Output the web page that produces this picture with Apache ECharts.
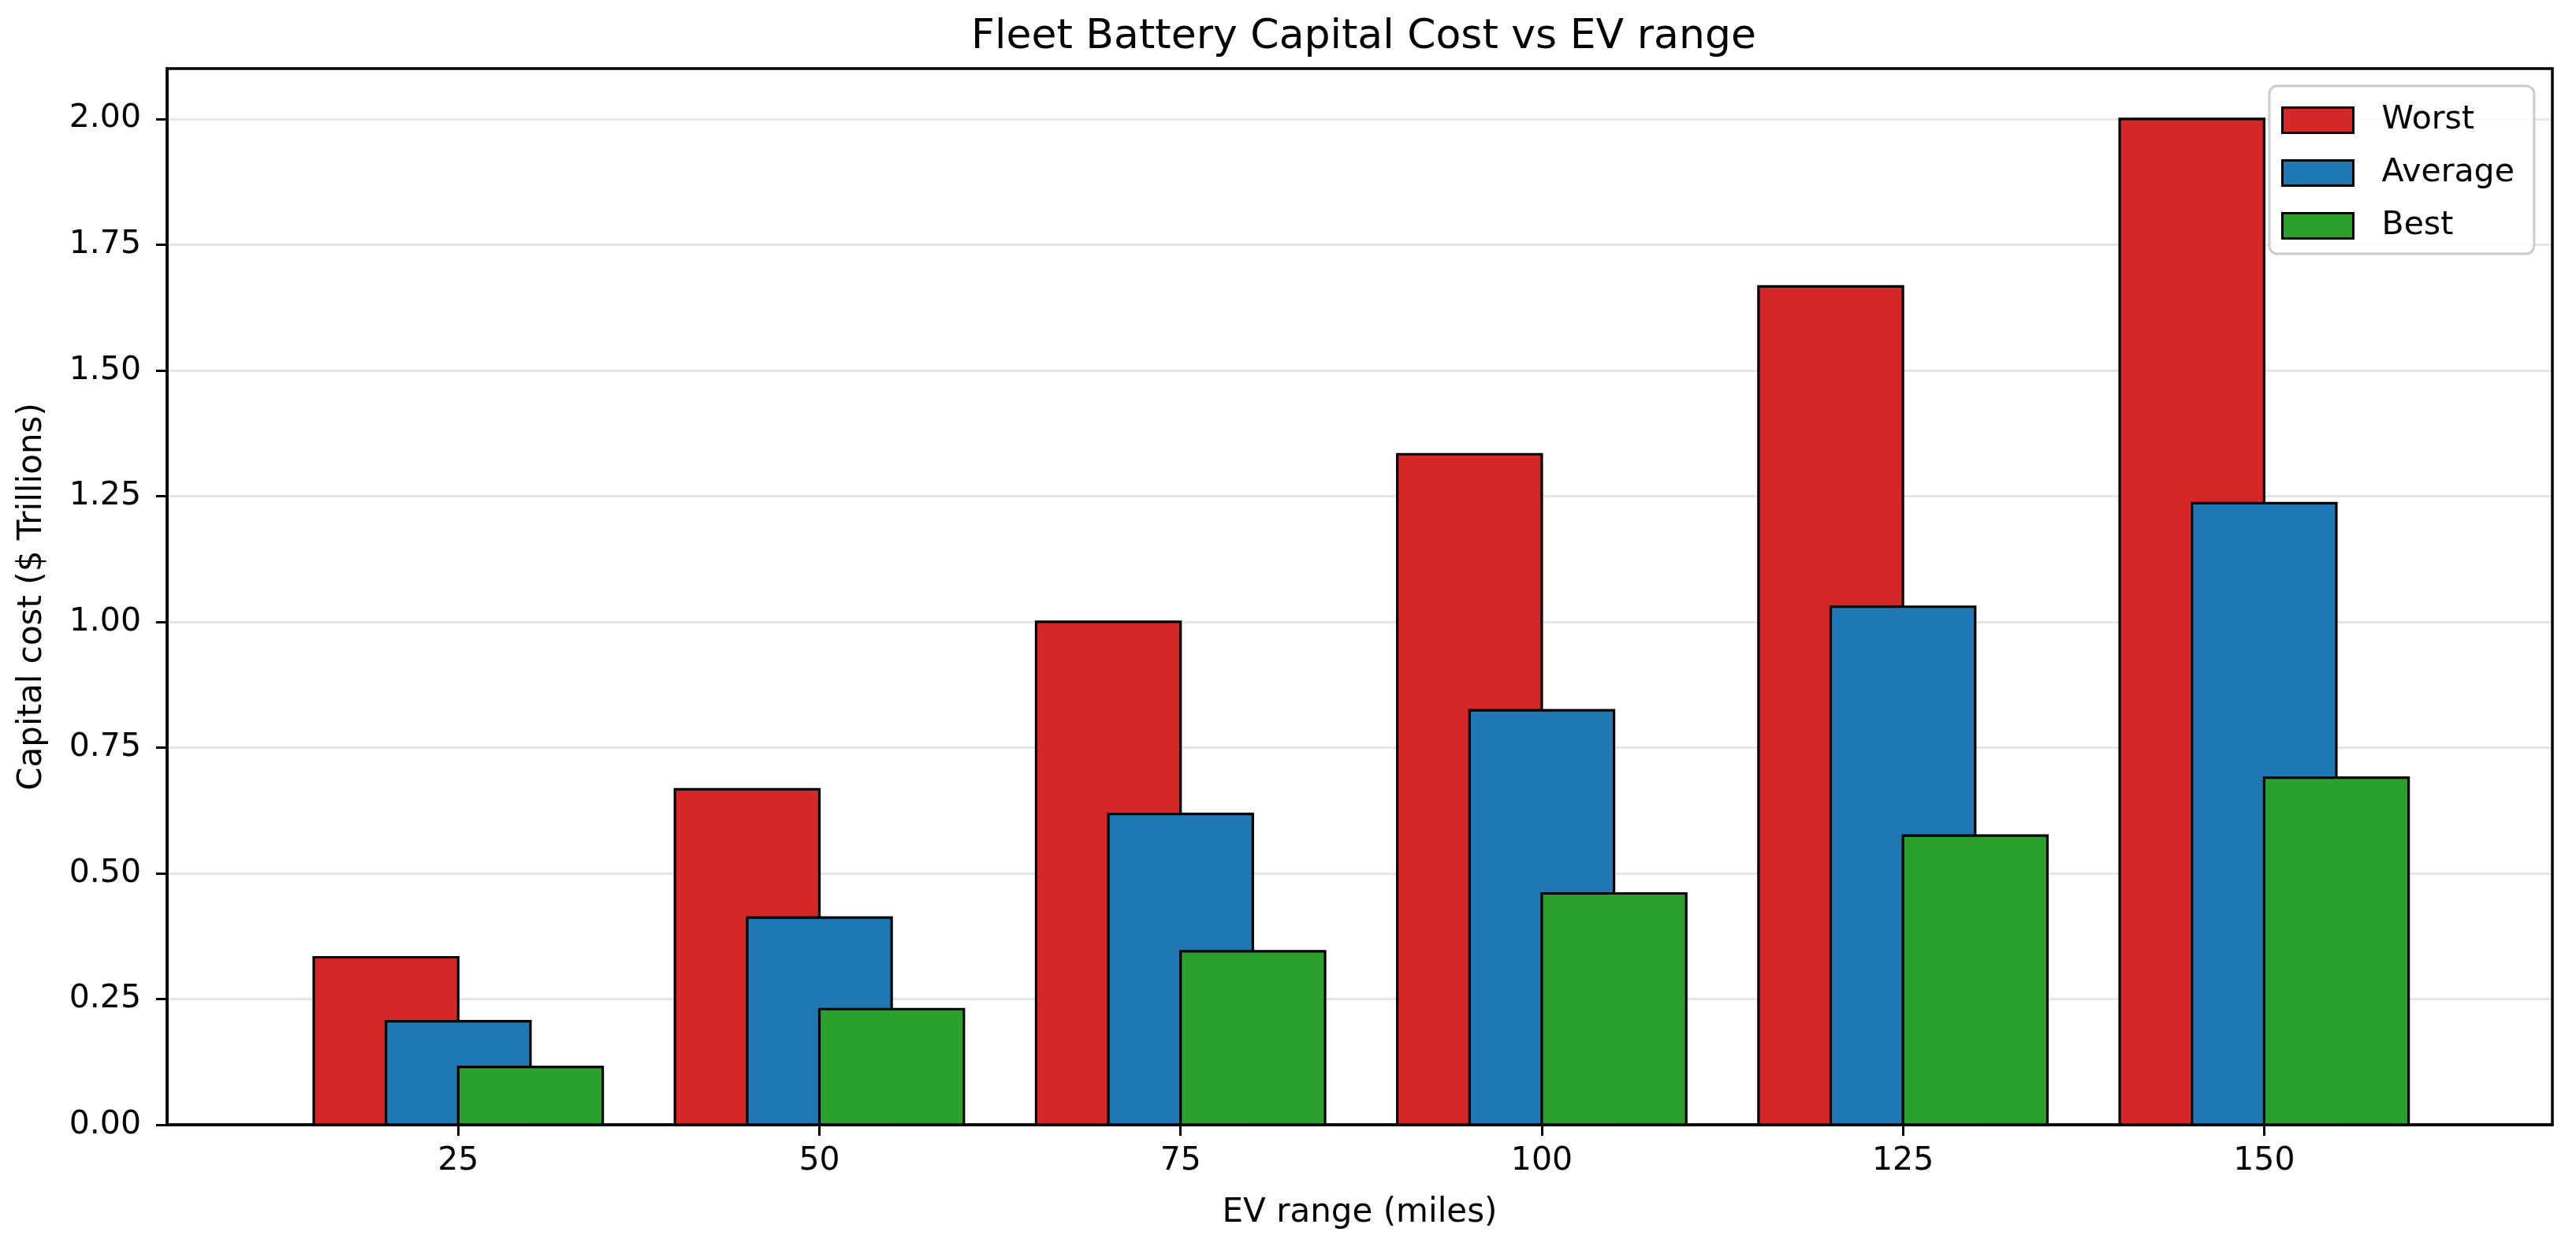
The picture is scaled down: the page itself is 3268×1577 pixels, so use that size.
<!DOCTYPE html>
<html>
<head>
<meta charset="utf-8">
<script src="https://cdn.jsdelivr.net/npm/echarts@6/dist/echarts.min.js"></script>
<style>html,body{margin:0;padding:0;background:#fff}#c{width:3268px;height:1577px}</style>
</head>
<body>
<div id="c"></div>
<script>
var ranges = [25, 50, 75, 100, 125, 150];
var worst = [0.333, 0.667, 1.0, 1.333, 1.667, 2.0];
var average = [0.206, 0.412, 0.618, 0.824, 1.030, 1.236];
var best = [0.115, 0.230, 0.345, 0.460, 0.575, 0.690];
var yTicks = [0, 0.25, 0.5, 0.75, 1.0, 1.25, 1.5, 1.75, 2.0];
var seriesNames = ['Worst', 'Average', 'Best'];
var colors = ['#d62728', '#1f77b4', '#2ca02c'];

var FONT = 'DejaVu Sans';
var BW = 10;
var offsets = [-5, 0, 5];
var allData = [worst, average, best];

function makeSeries(i) {
  return {
    type: 'custom',
    name: seriesNames[i],
    itemStyle: { color: colors[i], borderColor: '#000', borderWidth: 3 },
    data: ranges.map(function (r, k) { return [r, allData[i][k]]; }),
    renderItem: function (params, api) {
      var x = api.value(0), v = api.value(1);
      var p0 = api.coord([x + offsets[i] - BW / 2, v]);
      var p1 = api.coord([x + offsets[i] + BW / 2, 0]);
      return {
        type: 'rect',
        shape: { x: p0[0], y: p0[1], width: p1[0] - p0[0], height: p1[1] - p0[1] },
        style: { fill: colors[i], stroke: '#000', lineWidth: 3.2 }
      };
    },
    z: 2 + i
  };
}

var chart = echarts.init(document.getElementById('c'));
chart.setOption({
  animation: false,
  backgroundColor: '#fff',
  textStyle: { fontFamily: FONT },
  title: {
    text: 'Fleet Battery Capital Cost vs EV range',
    left: 1725, top: 16, textAlign: 'center',
    textStyle: { fontFamily: FONT, fontSize: 52, fontWeight: 'normal', color: '#000' }
  },
  legend: {
    orient: 'vertical',
    left: 2879, top: 109,
    data: seriesNames,
    itemWidth: 90, itemHeight: 32, itemGap: 26,
    padding: [23, 25, 15, 15],
    backgroundColor: 'rgba(255,255,255,0.8)',
    borderColor: '#cccccc', borderWidth: 3, borderRadius: 10,
    icon: 'rect',
    itemStyle: { borderColor: '#000', borderWidth: 3 },
    textStyle: { fontFamily: FONT, fontSize: 41, color: '#000', padding: [0, 0, 0, 31] }
  },
  grid: {
    left: 212, right: 30, top: 87, bottom: 150,
    show: true, borderColor: '#000', borderWidth: 3.5, backgroundColor: 'transparent', z: 10
  },
  xAxis: {
    type: 'value', min: 4.85, max: 169.95,
    name: 'EV range (miles)', nameLocation: 'middle', nameGap: 91,
    nameTextStyle: { fontFamily: FONT, fontSize: 42, color: '#000' },
    axisLine: { show: true, lineStyle: { color: '#000', width: 3.5 } },
    axisTick: { show: true, length: 14, lineStyle: { color: '#000', width: 3 }, customValues: ranges },
    axisLabel: { fontFamily: FONT, fontSize: 41, color: '#000', margin: 26, customValues: ranges },
    splitLine: { show: false }
  },
  yAxis: {
    type: 'value', min: 0, max: 2.1, interval: 0.25,
    name: 'Capital cost ($ Trillions)', nameLocation: 'middle', nameGap: 150,
    nameTextStyle: { fontFamily: FONT, fontSize: 42, color: '#000' },
    axisLine: { show: true, lineStyle: { color: '#000', width: 3.5 } },
    axisTick: { show: true, length: 14, lineStyle: { color: '#000', width: 3 }, customValues: yTicks },
    axisLabel: {
      fontFamily: FONT, fontSize: 41, color: '#000', margin: 33, customValues: yTicks,
      formatter: function (v) { return v.toFixed(2); }
    },
    splitLine: { show: true, lineStyle: { color: '#e6e6e6', width: 3 } }
  },
  series: [makeSeries(0), makeSeries(1), makeSeries(2)]
});
</script>
</body>
</html>
